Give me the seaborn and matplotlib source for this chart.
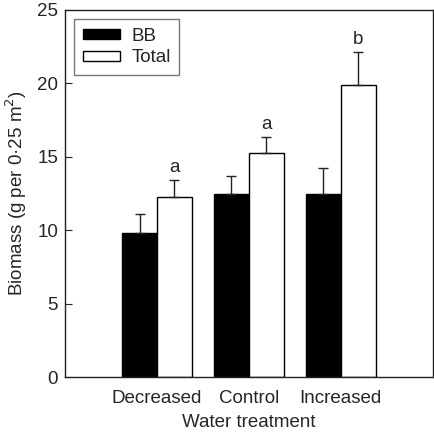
import numpy as np
import pandas as pd
import matplotlib
matplotlib.use("Agg")
import matplotlib.pyplot as plt
import seaborn as sns

# Values
treatments = ["Decreased", "Control", "Increased"]
bb_means = [9.8, 12.5, 12.5]
bb_err = [1.3, 1.2, 1.75]
total_means = [12.3, 15.25, 19.9]
total_err = [1.15, 1.1, 2.25]
letters = ["a", "a", "b"]

FS = 13.5


def build_frame():
    rows = []
    for i, t in enumerate(treatments):
        rows.append({"treatment": t, "type": "BB", "biomass": bb_means[i], "err": bb_err[i]})
        rows.append({"treatment": t, "type": "Total", "biomass": total_means[i], "err": total_err[i]})
    return pd.DataFrame(rows)


def make_plot(df):
    sns.set_style("ticks")
    plt.rcParams["font.family"] = ["Liberation Sans", "DejaVu Sans"]
    fig = plt.figure(figsize=(4.34, 4.34), dpi=100)
    ax = fig.add_axes([0.150, 0.131, 0.847, 0.846])

    sns.barplot(data=df, x="treatment", y="biomass", hue="type", order=treatments,
                hue_order=["BB", "Total"], palette={"BB": "black", "Total": "white"},
                edgecolor="black", linewidth=1.0, width=0.76, errorbar=None, ax=ax)

    # upward-only error bars on top of each bar
    errs = {"BB": bb_err, "Total": total_err}
    for cont, key in zip(ax.containers, ["BB", "Total"]):
        xs = [p.get_x() + p.get_width() / 2 for p in cont.patches]
        hs = [p.get_height() for p in cont.patches]
        e = errs[key]
        ax.errorbar(xs, hs, yerr=[np.zeros(len(e)), e], fmt="none",
                    ecolor="#222222", elinewidth=1.0, capsize=3.5, capthick=1.0)
        if key == "Total":
            for x, h, ee, lab in zip(xs, hs, e, letters):
                ax.text(x, h + ee + 0.25, lab, ha="center", va="bottom", fontsize=FS)

    ax.set_xlim(-1, 3)
    ax.set_ylim(0, 25)
    ax.set_yticks([0, 5, 10, 15, 20, 25])
    ax.tick_params(axis="y", direction="in", length=5, labelsize=FS, pad=5)
    ax.tick_params(axis="x", length=0, labelsize=FS, pad=9)
    for s in ax.spines.values():
        s.set_visible(True)
        s.set_linewidth(1.0)
        s.set_color("#222222")
    ax.set_xlabel("Water treatment", fontsize=FS, labelpad=5)
    ax.set_ylabel("Biomass (g per 0·25 m$^2$)", fontsize=FS, labelpad=6)

    leg = ax.legend(loc="upper left", fontsize=FS, frameon=True, fancybox=False,
                    edgecolor="#555555", handlelength=2.0, handleheight=0.45,
                    borderpad=0.45, labelspacing=0.25, handletextpad=0.6,
                    bbox_to_anchor=(0.0, 1.0), borderaxespad=0.5)
    leg.get_frame().set_linewidth(1.0)

    fig.savefig("out.png", dpi=100)


if __name__ == "__main__":
    data = build_frame()
    make_plot(data)
